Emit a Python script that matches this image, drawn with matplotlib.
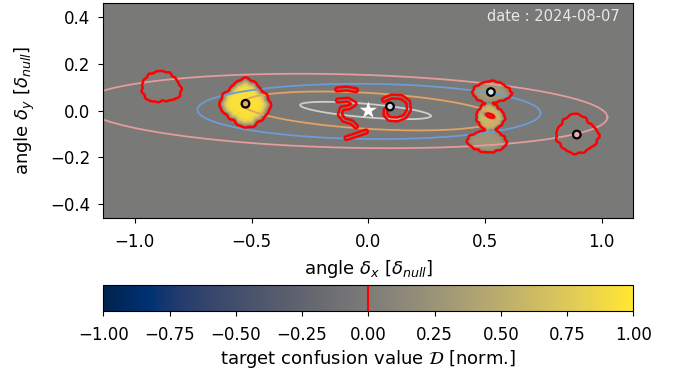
import numpy as np
import matplotlib
matplotlib.use("Agg")
import matplotlib.pyplot as plt
from matplotlib.colors import Normalize
from matplotlib.cm import ScalarMappable
from matplotlib.ticker import FuncFormatter

# ---------------- data ----------------
x_lim = (-1.135, 1.135)
y_lim = (-0.46, 0.46)
x_ticks = [-1.0, -0.5, 0.0, 0.5, 1.0]
y_ticks = [-0.4, -0.2, 0.0, 0.2, 0.4]
cbar_ticks = [-1.0, -0.75, -0.5, -0.25, 0.0, 0.25, 0.5, 0.75, 1.0]
date_label = "date : 2024-08-07"

# projected orbits: centre, half extent along x, half chord along y, shear
orbit_cx = [-0.012, 0.007, 0.003, -0.101]
orbit_cy = [0.000, -0.002, -0.004, -0.002]
orbit_ax = [0.280, 0.547, 0.735, 1.125]
orbit_by = [0.029, 0.077, 0.118, 0.157]
orbit_shear = [-0.083, -0.058, -0.010, -0.024]

# companion positions
planet_x = [0.093, -0.526, 0.525, 0.893]
planet_y = [0.017, 0.029, 0.079, -0.103]

# confusion-map blobs
blob_x = [-0.888, -0.526, 0.528, 0.522, 0.510, 0.893]
blob_y = [0.100, 0.030, 0.078, -0.028, -0.131, -0.103]
blob_rx = [0.080, 0.100, 0.078, 0.058, 0.078, 0.088]
blob_ry = [0.069, 0.100, 0.048, 0.060, 0.050, 0.080]
blob_peak = [0.05, 0.97, 0.32, 0.62, 0.28, 0.05]
blob_k = [2, 3, 4, 11, 16]
blob_amp = [
    [0.05, 0.06, 0.03, 0.025, 0.020],
    [0.03, 0.03, 0.07, 0.020, 0.020],
    [0.04, 0.03, 0.04, 0.025, 0.020],
    [0.03, 0.03, 0.05, 0.025, 0.020],
    [0.05, 0.04, 0.04, 0.030, 0.020],
    [0.03, 0.05, 0.05, 0.025, 0.020],
]
blob_phase = [
    [0.3, 1.2, 2.0, 0.5, 1.7],
    [1.0, 2.2, 0.0, 1.4, 0.3],
    [0.0, 0.7, 0.8, 2.1, 1.1],
    [1.5, 0.4, 0.0, 0.9, 2.4],
    [0.2, 2.8, 0.6, 1.8, 0.5],
    [2.1, 0.9, 0.0, 0.2, 1.3],
]
blob_sharpness = 10

# narrow dip inside the middle blob of the right-hand column
hole_x, hole_y, hole_rx, hole_ry, hole_angle, hole_depth = 0.522, -0.022, 0.030, 0.012, -20.0, 0.68

# thin ridges of the map near the star
ridge_paths = [
    ([0.067, 0.100, 0.143, 0.171, 0.174, 0.157, 0.124, 0.090, 0.073, 0.075],
     [0.046, 0.060, 0.057, 0.036, 0.003, -0.026, -0.038, -0.036, -0.017, 0.003]),
    ([-0.133, -0.093, -0.053],
     [0.090, 0.094, 0.087]),
    ([-0.130, -0.086, -0.059, -0.082, -0.113, -0.122, -0.105, -0.070, -0.053],
     [0.043, 0.046, 0.029, 0.014, 0.009, -0.017, -0.040, -0.051, -0.068]),
    ([-0.093, -0.050, -0.010],
     [-0.118, -0.104, -0.090]),
]
ridge_peak = 0.06
ridge_halfwidth = 0.008

background_level = -0.02
contour_level = 0.0

# ---------------- styles ----------------
orbit_colors = ["#cdcdcd", "#e3a263", "#6c9dd6", "#e49c9c"]
planet_colors = ["#d8d8d8", "#f0a860", "#d5e4f5", "#f5a9b8"]

plt.rcParams["font.family"] = ["DejaVu Sans"]
plt.rcParams["font.size"] = 12

# ---------------- map ----------------
gx = np.linspace(x_lim[0], x_lim[1], 1200)
gy = np.linspace(y_lim[0], y_lim[1], 500)
X, Y = np.meshgrid(gx, gy)
F = np.full_like(X, background_level)
thr = contour_level - background_level

for bx, by, rx, ry, A, amps, phs in zip(blob_x, blob_y, blob_rx, blob_ry,
                                        blob_peak, blob_amp, blob_phase):
    dx = (X - bx) / rx
    dy = (Y - by) / ry
    r = np.hypot(dx, dy)
    th = np.arctan2(dy, dx)
    R = np.ones_like(r)
    for k, a, p in zip(blob_k, amps, phs):
        R += a * np.cos(k * th + p)
    rho = np.minimum(r / R, 8.0)
    F += A * np.exp(-rho ** blob_sharpness * np.log(A / thr))

ca, sa = np.cos(np.radians(hole_angle)), np.sin(np.radians(hole_angle))
u = ((X - hole_x) * ca + (Y - hole_y) * sa) / hole_rx
v = (-(X - hole_x) * sa + (Y - hole_y) * ca) / hole_ry
F -= hole_depth * np.exp(-(u ** 2 + v ** 2) ** 2)


def polyline_distance(px, py):
    d = np.full_like(X, np.inf)
    for x0, y0, x1, y1 in zip(px[:-1], py[:-1], px[1:], py[1:]):
        sx, sy = x1 - x0, y1 - y0
        t = np.clip(((X - x0) * sx + (Y - y0) * sy) / (sx * sx + sy * sy), 0, 1)
        d = np.minimum(d, np.hypot(X - x0 - t * sx, Y - y0 - t * sy))
    return d


for px, py in ridge_paths:
    d = polyline_distance(px, py)
    F += ridge_peak * np.exp(-(d / ridge_halfwidth) ** 2 * np.log(ridge_peak / thr))

# ---------------- figure ----------------
W, H = 684, 379
fig = plt.figure(figsize=(W / 100, H / 100), dpi=100)
ax = fig.add_axes([103.3 / W, 1 - 218 / H, 530 / W, 215 / H])
cax = fig.add_axes([103.3 / W, 1 - 311 / H, 530 / W, 26 / H])

norm = Normalize(vmin=-1, vmax=1)
ax.imshow(F, extent=[x_lim[0], x_lim[1], y_lim[0], y_lim[1]], origin="lower",
          cmap="cividis", norm=norm, interpolation="bilinear", aspect="auto", zorder=0)

t = np.linspace(0, 2 * np.pi, 600)
for cx, cy, a, b, m, col in zip(orbit_cx, orbit_cy, orbit_ax, orbit_by, orbit_shear, orbit_colors):
    ox = cx + a * np.cos(t)
    oy = cy + m * a * np.cos(t) + b * np.sin(t)
    ax.plot(ox, oy, color=col, lw=1.3, zorder=2)

ax.contour(X, Y, F, levels=[contour_level], colors="red", linewidths=1.8, zorder=3)

ax.scatter(planet_x, planet_y, s=30, c=planet_colors, edgecolors="black",
           linewidths=1.6, zorder=5)
ax.scatter([0.0], [0.0], marker="*", s=170, c="white", edgecolors="none", zorder=6)

ax.text(0.975, 0.935, date_label, transform=ax.transAxes, ha="right", va="center",
        color="#e8e8e8", fontsize=10.5, zorder=7)

ax.set_xlim(*x_lim)
ax.set_ylim(*y_lim)
ax.set_xticks(x_ticks)
ax.set_yticks(y_ticks)
ax.tick_params(axis="x", pad=7.5)
ax.tick_params(axis="y", pad=6)
ax.set_xlabel(r"angle $\delta_x$ [$\delta_{null}$]", fontsize=13, labelpad=5)
ax.set_ylabel(r"angle $\delta_y$ [$\delta_{null}$]", fontsize=13, labelpad=9.5)

cb = fig.colorbar(ScalarMappable(norm=norm, cmap="cividis"), cax=cax,
                  orientation="horizontal", ticks=cbar_ticks)
cb.ax.xaxis.set_major_formatter(FuncFormatter(lambda v, _: f"{v:.2f}".replace("-", "\u2212")))
cb.ax.tick_params(pad=7.5)
cb.set_label(r"target confusion value $\mathcal{D}$ [norm.]", fontsize=13, labelpad=2.5)
cb.ax.axvline(contour_level, color="red", lw=1.5)

fig.savefig("out.png", dpi=100)
